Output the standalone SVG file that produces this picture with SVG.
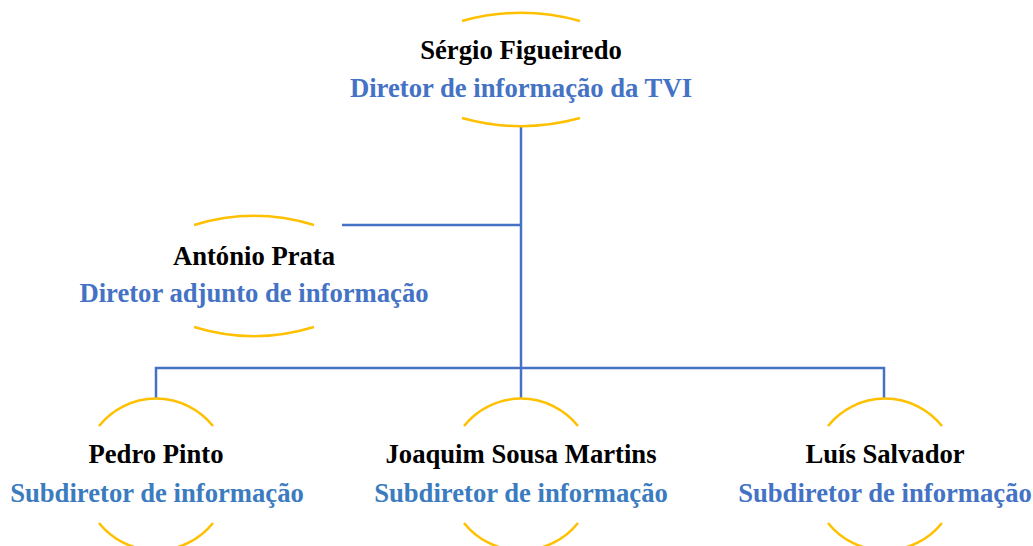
<svg xmlns="http://www.w3.org/2000/svg" width="1033" height="546" viewBox="0 0 1033 546">
<style>
.arc{fill:none;stroke:#FFC000;stroke-width:2.5}
.con{fill:none;stroke:#4472C4;stroke-width:2.5}
.name{font-family:"Liberation Serif","Times New Roman",serif;font-weight:bold;font-size:26.67px;fill:#000;text-anchor:middle}
.role{font-family:"Liberation Serif","Times New Roman",serif;font-weight:bold;font-size:26.67px;fill:#4472C4;text-anchor:middle}
.role2{fill:#3B7CC0}
</style>
<rect width="1033" height="546" fill="#fff"/>
<g id="connectors">
<path class="con" d="M521 126 V368"/>
<path class="con" d="M342 225 H521"/>
<path class="con" d="M156 398 V368 H884 V398"/>
<path class="con" d="M521 368 V398"/>
</g>
<g id="node-sergio">
<path class="arc" d="M462 21 A221 221 0 0 1 580 21"/>
<path class="arc" d="M462 118 A221 221 0 0 0 580 118"/>
<text class="name" x="521" y="59">Sérgio Figueiredo</text>
<text class="role" x="521" y="97">Diretor de informação da TVI</text>
</g>
<g id="node-antonio">
<path class="arc" d="M194 225 A205 205 0 0 1 314 225"/>
<path class="arc" d="M194 327 A205 205 0 0 0 314 327"/>
<text class="name" x="254" y="265">António Prata</text>
<text class="role" x="254" y="302">Diretor adjunto de informação</text>
</g>
<g id="node-pedro">
<path class="arc" d="M99 426 A73 73 0 0 1 213 426"/>
<path class="arc" d="M99 523 A73 73 0 0 0 213 523"/>
<text class="name" x="156" y="463">Pedro Pinto</text>
<text class="role role2" x="157" y="502">Subdiretor de informação</text>
</g>
<g id="node-joaquim">
<path class="arc" d="M464 426 A73 73 0 0 1 578 426"/>
<path class="arc" d="M464 523 A73 73 0 0 0 578 523"/>
<text class="name" x="521" y="463">Joaquim Sousa Martins</text>
<text class="role role2" x="521" y="502">Subdiretor de informação</text>
</g>
<g id="node-luis">
<path class="arc" d="M828 426 A73 73 0 0 1 942 426"/>
<path class="arc" d="M828 523 A73 73 0 0 0 942 523"/>
<text class="name" x="885" y="463">Luís Salvador</text>
<text class="role" x="885" y="502">Subdiretor de informação</text>
</g>
</svg>
